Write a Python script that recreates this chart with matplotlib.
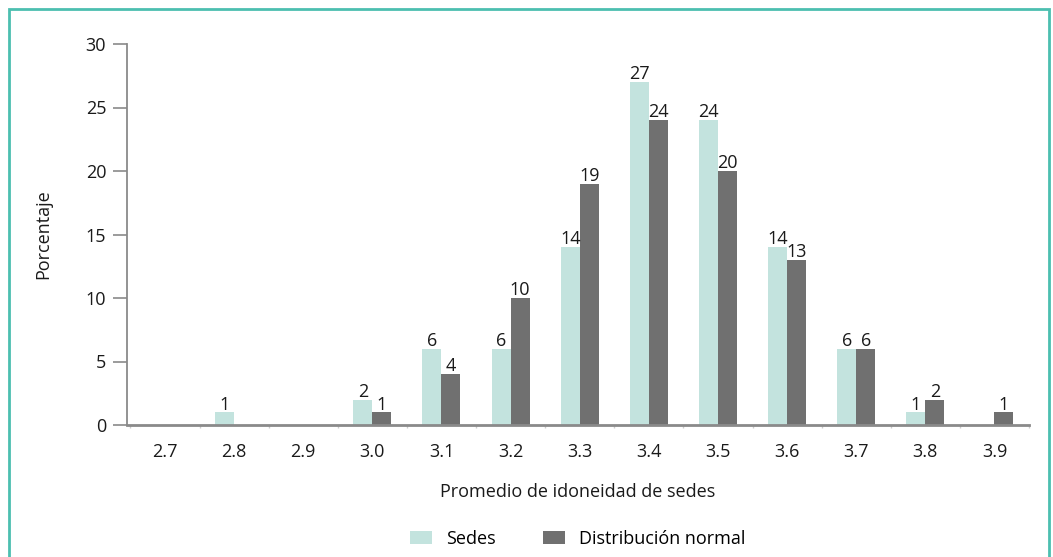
import matplotlib.pyplot as plt
import numpy as np
from matplotlib.patches import Rectangle

plt.rcParams['font.family'] = ['Open Sans', 'DejaVu Sans']

categorias = ['2.7', '2.8', '2.9', '3.0', '3.1', '3.2', '3.3', '3.4', '3.5', '3.6', '3.7', '3.8', '3.9']
sedes = [0, 1, 0, 2, 6, 6, 14, 27, 24, 14, 6, 1, 0]
normal = [0, 0, 0, 1, 4, 10, 19, 24, 20, 13, 6, 2, 1]

c_sedes = '#c3e3de'
c_normal = '#707070'
c_axis = '#8a8a8a'
fs = 13

fig = plt.figure(figsize=(10.53, 5.57), dpi=100)
ax = fig.add_axes([127 / 1053, 1 - 425 / 557, (1029 - 127) / 1053, (425 - 44) / 557])

x = np.arange(len(categorias))
w = 0.275
b1 = ax.bar(x - w / 2, sedes, w, color=c_sedes, label='Sedes')
b2 = ax.bar(x + w / 2, normal, w, color=c_normal, label='Distribución normal')

for bars, vals in ((b1, sedes), (b2, normal)):
    for r, v in zip(bars, vals):
        if v > 0:
            ax.text(r.get_x() + r.get_width() / 2, v - 0.1, str(v), ha='center', va='bottom',
                    fontsize=fs, color='#1a1a1a')

ax.set_xlim(-0.55, 12.49)
ax.set_ylim(0, 30)
ax.set_yticks(range(0, 31, 5))
ax.set_xticks(x)
ax.set_xticklabels(categorias)
ax.set_xticks(np.arange(-0.5, 12.6, 1), minor=True)

for s in ['top', 'right']:
    ax.spines[s].set_visible(False)
ax.spines['left'].set_color(c_axis)
ax.spines['left'].set_linewidth(1.3)
ax.spines['bottom'].set_color(c_axis)
ax.spines['bottom'].set_linewidth(2)
ax.tick_params(axis='y', length=10, width=1.2, color=c_axis, labelsize=fs, pad=5, labelcolor='#1a1a1a')
ax.tick_params(axis='x', which='major', length=0, labelsize=fs, pad=13, labelcolor='#1a1a1a')
ax.tick_params(axis='x', which='minor', length=2, width=1, color='#cccccc')

ax.set_xlabel('Promedio de idoneidad de sedes', fontsize=fs, labelpad=16, color='#1a1a1a')
ax.set_ylabel('Porcentaje', fontsize=fs, labelpad=24, color='#1a1a1a')

fig.legend(handles=[b1, b2], loc='center', bbox_to_anchor=(578 / 1053, 1 - 539 / 557),
           ncol=2, frameon=False, fontsize=fs, handlelength=1.2, handleheight=0.7,
           columnspacing=2.6, handletextpad=0.8)

fig.patches.append(Rectangle((9 / 1053, -0.05), (1049 - 9) / 1053, 1 - 9 / 557 + 0.05,
                             transform=fig.transFigure, fill=False, edgecolor='#4cbfb0', linewidth=2))

fig.savefig('out.png', dpi=100)
